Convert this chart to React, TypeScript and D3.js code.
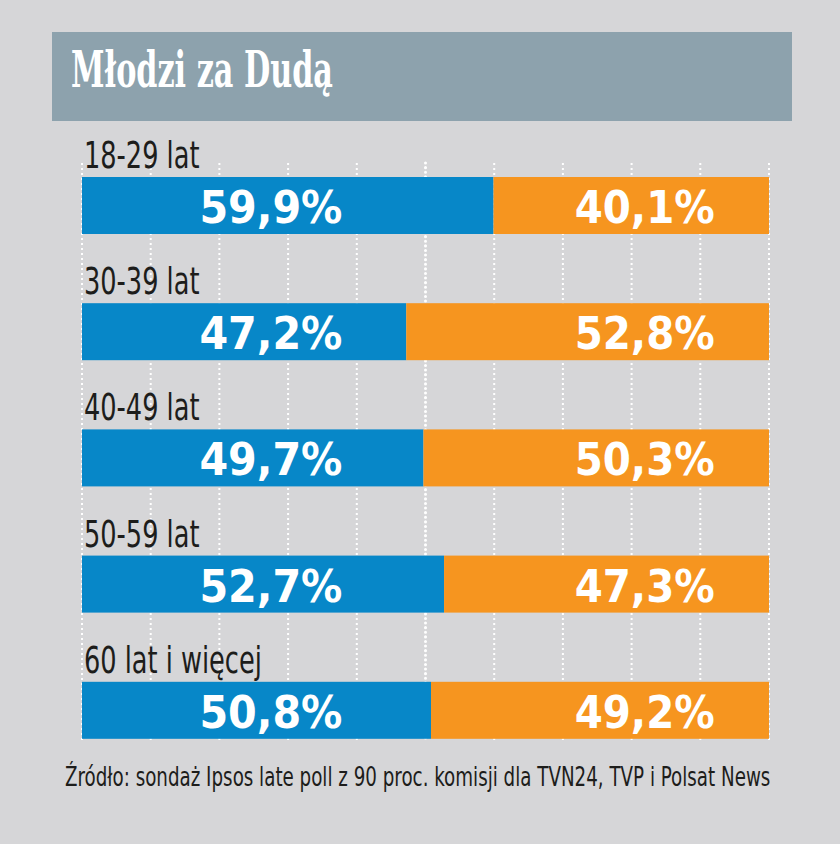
import React, { useLayoutEffect, useRef, useState } from "react";
import * as d3 from "d3";

const title = "Młodzi za Dudą";
const categories = ["18-29 lat", "30-39 lat", "40-49 lat", "50-59 lat", "60 lat i więcej"];
const dudaValues = [59.9, 47.2, 49.7, 52.7, 50.8];
const trzaskowskiValues = [40.1, 52.8, 50.3, 47.3, 49.2];
const gridTicks = [0, 10, 20, 30, 40, 50, 60, 70, 80, 90, 100];
const source = "Źródło: sondaż Ipsos late poll z 90 proc. komisji dla TVN24, TVP i Polsat News";

const W = 840;
const H = 844;
const BG = "#d6d6d8";
const BAR_BG = "#8da2ad";
const BLUE = "#0787c8";
const ORANGE = "#f6951f";
const TEXT = "#1d1d1b";
const NARROW = "'DejaVu Sans Condensed', 'DejaVu Sans', sans-serif";

const fmt = (v: number) => v.toFixed(1).replace(".", ",") + "%";

function FitText(props: {
  x: number;
  y: number;
  width: number;
  children: string;
  [k: string]: any;
}) {
  const { x, y, width, children, ...rest } = props;
  const ref = useRef<SVGTextElement>(null);
  const [s, setS] = useState(1);
  useLayoutEffect(() => {
    if (ref.current) {
      const len = ref.current.getComputedTextLength();
      if (len > 0) setS(width / len);
    }
  }, [width, children]);
  return (
    <text ref={ref} transform={`translate(${x},${y}) scale(${s},1)`} {...rest}>
      {children}
    </text>
  );
}

export default function App() {
  const x = d3.scaleLinear().domain([0, 100]).range([82, 769]);
  const step = 126.2;
  const barH = 57;
  const barTop = (i: number) => 177 + i * step;
  const gridTop = 163;
  const gridBottom = 741;
  const blueLabelX = x(27.5);
  const orangeLabelX = x(81.9);
  const catScale = 0.77;

  return (
    <svg
      width={W}
      height={H}
      style={{ position: "absolute", left: 0, top: 0, display: "block" }}
      xmlns="http://www.w3.org/2000/svg"
    >
      <rect x={0} y={0} width={W} height={H} fill={BG} />
      <rect x={52} y={32} width={740} height={89} fill={BAR_BG} />
      <FitText
        x={71}
        y={87}
        width={262}
        fill="#ffffff"
        fontFamily="'DejaVu Serif Condensed', 'DejaVu Serif', serif"
        fontWeight="bold"
        fontSize={50}
      >
        {title}
      </FitText>

      {gridTicks.map((t) => (
        <line
          key={t}
          x1={x(t)}
          x2={x(t)}
          y1={gridTop}
          y2={gridBottom}
          stroke="#ffffff"
          strokeWidth={t === 50 ? 3 : 2}
          strokeDasharray={t === 50 ? "0.1,4.5" : "2,3"}
          strokeLinecap={t === 50 ? "round" : "butt"}
        />
      ))}

      {categories.map((c, i) => {
        const top = barTop(i);
        const b = dudaValues[i];
        const o = trzaskowskiValues[i];
        return (
          <g key={c}>
            <text
              transform={`translate(84,${top - 9}) scale(${catScale},1)`}
              fill={TEXT}
              fontFamily={NARROW}
              fontSize={37}
            >
              {c}
            </text>
            <rect x={x(0)} y={top} width={x(b) - x(0)} height={barH} fill={BLUE} />
            <rect x={x(b)} y={top} width={x(b + o) - x(b)} height={barH} fill={ORANGE} />
            <text
              x={blueLabelX}
              y={top + 46}
              fill="#ffffff"
              textAnchor="middle"
              fontFamily={NARROW}
              fontWeight="bold"
              fontSize={45}
              textLength={143}
              lengthAdjust="spacingAndGlyphs"
            >
              {fmt(b)}
            </text>
            <text
              x={orangeLabelX}
              y={top + 46}
              fill="#ffffff"
              textAnchor="middle"
              fontFamily={NARROW}
              fontWeight="bold"
              fontSize={45}
              textLength={140}
              lengthAdjust="spacingAndGlyphs"
            >
              {fmt(o)}
            </text>
          </g>
        );
      })}

      <FitText x={65} y={786} width={706} fill={TEXT} fontFamily={NARROW} fontSize={27}>
        {source}
      </FitText>
    </svg>
  );
}
